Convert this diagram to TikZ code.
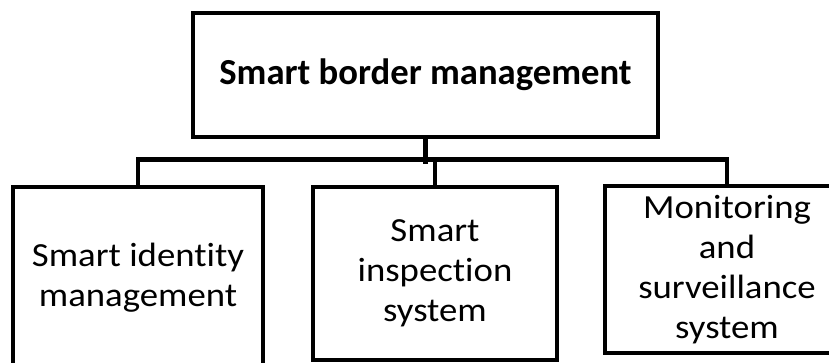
\documentclass[tikz,border=0pt]{standalone}
\usepackage{fontspec}
\setmainfont{Carlito}[Ligatures=NoCommon]
\newfontfamily\branchfont{Carlito}[FakeStretch=1.09, Ligatures=NoCommon]
\tikzset{box/.style = {draw, line width=3.4pt, inner sep=0, align=center,
                       font=\branchfont\fontsize{25.3}{30}\selectfont}}
\tikzset{link/.style = {line width=3.4pt}}

\begin{document}
\begin{tikzpicture}[x=0.75pt, y=-0.75pt]
    \useasboundingbox (0, 0) rectangle (829, 362);

    % top of the tree
    \node [box, minimum width=348.75pt, minimum height=93pt,
           font=\fontsize{27.5}{33}\selectfont\bfseries] (border) at (425.5, 75)
          {Smart border management};

    % the three branches
    \node [box, minimum width=187.5pt, minimum height=136.5pt] (identity) at (138, 278)
          {Smart identity\\management};
    \node [box, minimum width=183pt, minimum height=129.75pt] (inspection) at (435, 273.5)
          {Smart\\inspection\\system};
    \node [box, minimum width=183pt, minimum height=125.25pt] (surveillance) at (727, 269.5)
          {Monitoring\\and\\surveillance\\system};

    \draw [link] (border.south) -- ++(0, 25);
    \draw [link] (identity.north) -- ++(0, -25) -| (surveillance.north);
    \draw [link] (inspection.north) -- ++(0, -25);
  \end{tikzpicture}
\end{document}
